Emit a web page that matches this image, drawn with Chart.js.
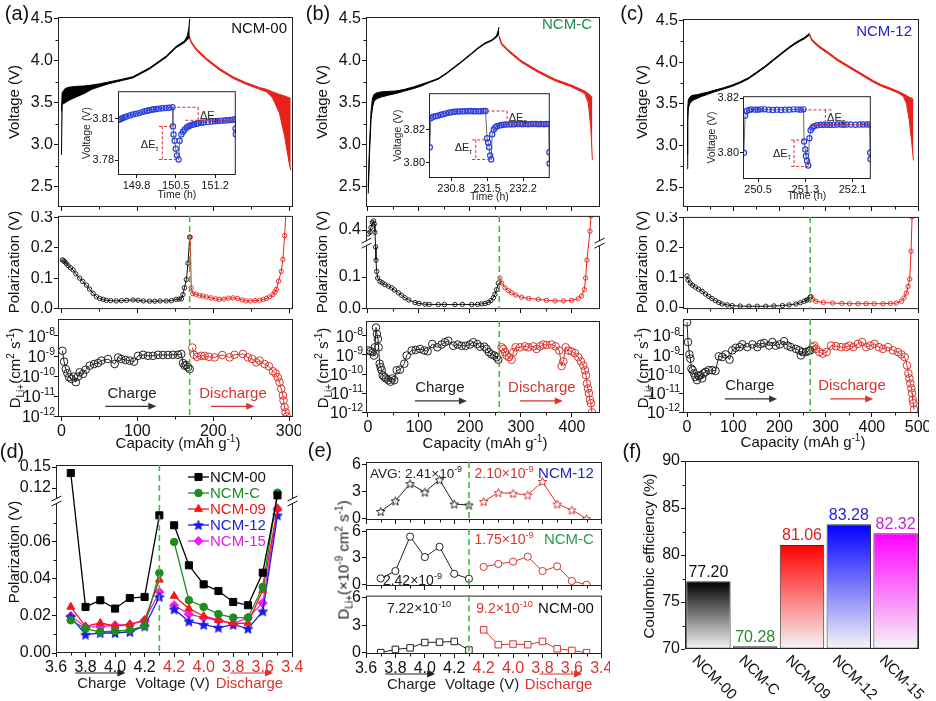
<!DOCTYPE html>
<html><head><meta charset="utf-8"><title>GITT kinetics figure</title>
<script src="https://cdn.jsdelivr.net/npm/chart.js@4.4.1/dist/chart.umd.min.js"></script>
<style>
html,body{margin:0;padding:0;background:#fff;}
#fig{position:relative;width:936px;height:701px;overflow:hidden;background:#fff;font-family:"Liberation Sans",Arial,Helvetica,sans-serif;color:#111;}
#fig canvas{position:absolute;}
.lab{position:absolute;white-space:nowrap;line-height:1;transform:translate(-50%,-50%);font-size:15px;}
.lab.rot{transform:translate(-50%,-50%) rotate(-90deg);}
.lab sub,.lab sup{font-size:10px;line-height:0;}
.pl{font-size:20px;}
</style></head>
<body><div id="fig"></div>
<script>
// ================= DATA =================
// (a) NCM-00 GITT voltage band (pulse top / relaxed bottom), capacity in mAh/g
const aChargeCap   = [0, 1, 5, 10, 20, 30, 40, 50, 64, 80, 94, 116, 138, 151, 162, 166, 168, 169];
const aChargeUpper = [3.40, 3.62, 3.67, 3.685, 3.695, 3.70, 3.71, 3.725, 3.75, 3.78, 3.81, 3.915, 4.055, 4.17, 4.235, 4.30, 4.40, 4.50];
const aChargeLower = [2.88, 3.48, 3.50, 3.53, 3.57, 3.61, 3.66, 3.69, 3.73, 3.765, 3.795, 3.90, 4.04, 4.155, 4.215, 4.25, 4.27, 4.28];
const aDisCap   = [168, 171, 178, 191, 208, 226, 243, 261, 270, 278, 287, 294, 300, 302];
const aDisUpper = [4.30, 4.23, 4.14, 4.03, 3.91, 3.81, 3.74, 3.68, 3.66, 3.63, 3.60, 3.58, 3.56, 3.55];
const aDisLower = [4.28, 4.21, 4.12, 4.01, 3.89, 3.79, 3.72, 3.66, 3.63, 3.56, 3.38, 3.10, 2.78, 2.70];
// (b) NCM-C
const bChargeCap   = [0.5, 3, 6, 9, 12, 18, 27, 40, 55, 72, 90, 105, 120, 138, 155, 170, 185, 203, 215, 229, 240, 246, 252, 255, 257];
const bChargeUpper = [2.50, 3.00, 3.40, 3.56, 3.60, 3.62, 3.63, 3.635, 3.64, 3.66, 3.69, 3.72, 3.75, 3.79, 3.86, 3.93, 4.00, 4.09, 4.15, 4.21, 4.24, 4.26, 4.30, 4.35, 4.40];
const bChargeLower = [2.42, 2.90, 3.30, 3.45, 3.52, 3.55, 3.57, 3.59, 3.61, 3.64, 3.67, 3.70, 3.74, 3.78, 3.85, 3.92, 3.99, 4.08, 4.14, 4.20, 4.23, 4.25, 4.28, 4.30, 4.33];
const bDisCap   = [257, 262, 275, 301, 334, 367, 399, 425, 432, 437, 440];
const bDisUpper = [4.30, 4.21, 4.13, 4.00, 3.88, 3.78, 3.71, 3.64, 3.61, 3.58, 3.56];
const bDisLower = [4.28, 4.19, 4.11, 3.98, 3.86, 3.76, 3.69, 3.61, 3.50, 3.20, 2.82];
// (c) NCM-12
const cChargeCap   = [0, 1.5, 3, 6, 10, 15, 22, 32, 45, 60, 80, 97, 115, 133, 150, 169, 187, 205, 220, 234, 245, 255, 261, 265];
const cChargeUpper = [2.90, 3.45, 3.55, 3.58, 3.60, 3.605, 3.61, 3.625, 3.64, 3.665, 3.695, 3.725, 3.765, 3.815, 3.88, 3.955, 4.035, 4.115, 4.18, 4.235, 4.27, 4.30, 4.33, 4.35];
const cChargeLower = [2.72, 3.30, 3.45, 3.50, 3.53, 3.55, 3.565, 3.59, 3.615, 3.645, 3.68, 3.71, 3.75, 3.80, 3.865, 3.94, 4.02, 4.10, 4.165, 4.22, 4.255, 4.285, 4.31, 4.33];
const cDisCap   = [265, 270, 277, 290, 306, 325, 349, 367, 385, 403, 421, 440, 457, 468, 475, 481, 486, 490];
const cDisUpper = [4.34, 4.28, 4.24, 4.18, 4.12, 4.04, 3.96, 3.90, 3.84, 3.78, 3.73, 3.69, 3.65, 3.62, 3.60, 3.58, 3.57, 3.55];
const cDisLower = [4.32, 4.26, 4.22, 4.16, 4.10, 4.02, 3.94, 3.88, 3.82, 3.76, 3.71, 3.67, 3.63, 3.59, 3.50, 3.30, 3.05, 2.82];

// Polarization (V)
const aPolChCap = [1.3, 3, 4.4, 6.5, 8.8, 12, 15.4, 19, 24, 28, 33, 37, 41.7, 46, 50.4, 55, 59.2, 65, 72.4, 79, 86, 94.3, 101, 108, 116, 123, 130, 138, 145, 151, 155, 158, 160, 162, 164.5, 166.7, 168.9];
const aPolChV   = [0.160, 0.157, 0.154, 0.148, 0.141, 0.134, 0.127, 0.114, 0.100, 0.089, 0.077, 0.064, 0.050, 0.039, 0.033, 0.030, 0.027, 0.026, 0.025, 0.026, 0.027, 0.028, 0.027, 0.025, 0.024, 0.024, 0.025, 0.025, 0.026, 0.030, 0.031, 0.032, 0.046, 0.068, 0.095, 0.149, 0.235];
const aPolDisCap = [169.7, 171, 173, 177, 182, 186, 191, 197, 203, 208, 214, 220, 226, 232, 238, 243, 249, 255, 261, 266, 270, 274, 278.5, 281, 283, 286, 289.5, 291.7, 294, 296];
const aPolDisV   = [0.235, 0.068, 0.049, 0.047, 0.043, 0.041, 0.038, 0.035, 0.032, 0.030, 0.031, 0.034, 0.035, 0.033, 0.028, 0.025, 0.025, 0.026, 0.027, 0.030, 0.033, 0.038, 0.046, 0.054, 0.063, 0.090, 0.122, 0.162, 0.240, 0.330];
const bPolChCap = [0.65, 3.9, 5.9, 8.5, 11.1, 12.4, 13.7, 15, 15.7, 17, 19, 23.5, 28, 33.3, 40, 46.4, 52, 59.5, 66, 72.5, 80, 92.2, 100, 111.8, 120, 137.9, 150, 170.6, 185, 203.3, 215, 222.9, 230, 235.9, 241, 245.8, 249, 252.3, 255.6];
const bPolChV   = [0.388, 0.393, 0.408, 0.424, 0.429, 0.419, 0.393, 0.196, 0.154, 0.118, 0.097, 0.086, 0.082, 0.076, 0.071, 0.066, 0.059, 0.050, 0.042, 0.034, 0.027, 0.019, 0.016, 0.0135, 0.013, 0.0125, 0.0125, 0.0125, 0.013, 0.0125, 0.013, 0.0146, 0.016, 0.019, 0.025, 0.034, 0.045, 0.060, 0.081];
const bPolDisCap = [258.8, 262.1, 268.6, 275, 281.7, 290, 301.3, 315, 334, 350, 366.7, 383, 399.3, 412.4, 419, 424.2, 426.8, 429.4, 435.3, 437.3];
const bPolDisV   = [0.097, 0.081, 0.066, 0.057, 0.050, 0.043, 0.036, 0.032, 0.029, 0.026, 0.024, 0.024, 0.026, 0.031, 0.040, 0.060, 0.097, 0.154, 0.396, 0.445];
const cPolChCap = [0, 2.2, 7.2, 12, 18.1, 25, 32.6, 40, 47.1, 54, 61.6, 69, 76.1, 87, 97.8, 115, 134, 152, 170.3, 188, 206.5, 221, 235.5, 245, 253.6, 259, 263, 266.7];
const cPolChV   = [0.106, 0.093, 0.082, 0.075, 0.069, 0.062, 0.055, 0.046, 0.038, 0.031, 0.024, 0.018, 0.013, 0.010, 0.0076, 0.006, 0.0055, 0.0055, 0.0055, 0.0065, 0.0076, 0.010, 0.013, 0.017, 0.022, 0.026, 0.029, 0.036];
const cPolDisCap = [268.1, 271.7, 279, 295, 315.2, 335, 351.4, 370, 387.7, 405, 423.9, 440, 452.9, 463.8, 469.6, 474.6, 478.3, 481.9, 484.8, 487];
const cPolDisV   = [0.038, 0.029, 0.022, 0.018, 0.016, 0.015, 0.014, 0.014, 0.014, 0.014, 0.014, 0.015, 0.016, 0.022, 0.033, 0.049, 0.071, 0.096, 0.188, 0.302];

// Li+ diffusion coefficient (cm2/s)
const aDChCap = [1.3, 3.5, 5.7, 7.9, 10.1, 13.2, 16.2, 18.9, 21.9, 24.1, 28.5, 32, 37.3, 43, 48.2, 52.6, 61.4, 70.2, 74.6, 78.9, 84.6, 89.9, 95.6, 100.9, 107.5, 114, 120.6, 127.2, 133.8, 140.4, 146.9, 153.5, 157.9, 160.1, 162.3, 164.5, 166.7, 168.9];
const aDCh    = [1.82e-9, 5.25e-10, 2.24e-10, 1.38e-10, 8.7e-11, 7.2e-11, 9.5e-11, 5.0e-11, 9.5e-11, 1.55e-10, 1.29e-10, 2.09e-10, 3.31e-10, 3.98e-10, 4.47e-10, 5.89e-10, 7.08e-10, 3.98e-10, 8.51e-10, 7.08e-10, 6.31e-10, 5.89e-10, 5.25e-10, 1.02e-9, 1.15e-9, 1.02e-9, 1.02e-9, 1.15e-9, 1.12e-9, 1.12e-9, 1.15e-9, 1.15e-9, 1.26e-9, 4.47e-10, 3.31e-10, 3.55e-10, 2.75e-10, 2.24e-10];
const aDDisCap = [172.4, 174.6, 178.5, 184.2, 188.6, 194.3, 201.8, 211.8, 221.5, 228, 239, 245.6, 251.3, 256.6, 261, 267.5, 273.2, 278.5, 282, 285, 287.3, 289.5, 291.7, 292.5, 293.9, 295.2, 296.9];
const aDDis    = [2.63e-9, 1.15e-9, 9.1e-10, 1.02e-9, 1.02e-9, 9.1e-10, 8.5e-10, 1.12e-9, 8.5e-10, 1.15e-9, 1.26e-9, 8.5e-10, 7.1e-10, 4.8e-10, 5.9e-10, 4.0e-10, 3.1e-10, 1.74e-10, 1.38e-10, 8.7e-11, 5.0e-11, 2.34e-11, 1.10e-11, 6.2e-12, 2.9e-12, 1.6e-12, 1.0e-12];
const bDChCap = [0.7, 5.2, 9.2, 11.8, 13.7, 15.7, 17.6, 19.6, 20.9, 22.9, 24.8, 26.8, 28.8, 32, 35.3, 39.9, 44.4, 47.7, 51.6, 56.2, 62.7, 71.2, 75.8, 85.6, 93.5, 102, 110.5, 117, 126.1, 136, 144.4, 151, 157.5, 167.3, 175.8, 183.7, 191.5, 200, 206.5, 214.4, 219.6, 228.1, 232.7, 237.3, 242.5, 247.7, 252.3, 255.6];
const bDCh    = [1.7e-9, 1.55e-9, 1.38e-9, 9.3e-10, 2.5e-9, 2.7e-8, 1.23e-8, 6.8e-9, 2.5e-9, 3.5e-10, 2.3e-10, 1.58e-10, 8.7e-11, 7.1e-11, 5.9e-11, 4.8e-11, 4.0e-11, 5.9e-11, 4.8e-11, 1.58e-10, 1.7e-10, 3.5e-10, 9.3e-10, 1.7e-9, 1.82e-9, 2.04e-9, 1.7e-9, 1.55e-9, 3.7e-9, 2.5e-9, 3.5e-9, 4.6e-9, 5.5e-9, 3.0e-9, 3.5e-9, 3.0e-9, 3.0e-9, 3.5e-9, 4.6e-9, 3.7e-9, 2.7e-9, 2.7e-9, 2.04e-9, 1.38e-9, 1.05e-9, 9.3e-10, 7.6e-10, 5.6e-10];
const bDDisCap = [262.1, 265.4, 268.6, 271.9, 276.5, 281.7, 285, 289.5, 298, 307.8, 314.4, 324.2, 330.7, 337.3, 343.8, 350.3, 360.1, 368, 375.2, 379.7, 383, 387.6, 392.8, 399.3, 405.9, 412.4, 417.6, 422.2, 425.5, 427.5, 429.4, 431.4, 433.3, 435.3, 437.3, 439.2];
const bDDis    = [2.5e-9, 2.04e-9, 1.38e-9, 9.3e-10, 7.6e-10, 5.6e-10, 1.38e-9, 2.5e-9, 2.5e-9, 2.8e-9, 2.5e-9, 2.8e-9, 2.04e-9, 2.8e-9, 3.5e-9, 3.3e-9, 3.5e-9, 2.8e-9, 1.7e-9, 2.6e-10, 4.6e-10, 2.5e-9, 1.7e-9, 1.5e-9, 1.23e-9, 7.6e-10, 4.6e-10, 2.8e-10, 1.58e-10, 8.7e-11, 3.2e-11, 1.78e-11, 1.0e-11, 4.5e-12, 3.0e-12, 1.0e-12];
const cDChCap = [0, 2.2, 5.1, 7.2, 9.4, 12.3, 15.2, 18.1, 21.7, 25.4, 29, 32.6, 36.2, 39.9, 47.1, 54.3, 61.6, 68.8, 76.1, 83.3, 92, 97.8, 105.1, 113.8, 119.6, 130.4, 141.3, 152.2, 159.4, 166.7, 177.5, 184.8, 192, 200.7, 210.1, 217.4, 224.6, 235.5, 242.8, 246.4, 250, 257.2, 263, 266.7];
const cDCh    = [4.9e-8, 4.6e-9, 1.05e-9, 6.3e-10, 1.9e-10, 1.58e-10, 1.07e-10, 7.1e-11, 4.8e-11, 7.8e-11, 8.7e-11, 5.9e-11, 1.07e-10, 1.29e-10, 1.58e-10, 1.58e-10, 1.45e-10, 8.3e-10, 7.6e-10, 1.05e-9, 5.6e-10, 1.7e-9, 2.3e-9, 2.5e-9, 3.5e-9, 2.5e-9, 3.5e-9, 2.5e-9, 3.7e-9, 4.1e-9, 3.0e-9, 4.6e-9, 3.0e-9, 3.5e-9, 5.1e-9, 3.0e-9, 2.5e-9, 2.04e-9, 1.7e-9, 9.3e-10, 1.38e-9, 1.38e-9, 1.55e-9, 1.7e-9];
const cDDisCap = [271.7, 275.4, 279, 286.2, 293.5, 302.2, 311.6, 322.5, 333.3, 344.2, 351.4, 360.1, 369.6, 379, 387.7, 396.4, 405.8, 415.2, 423.9, 434.8, 445.7, 456.5, 463.8, 471, 476.1, 479, 481.2, 483.3, 485.5, 487, 488.4, 489.9, 491.3];
const cDDis    = [2.5e-9, 3.0e-9, 2.04e-9, 1.38e-9, 1.15e-9, 1.38e-9, 3.0e-9, 2.8e-9, 2.5e-9, 2.5e-9, 3.0e-9, 2.5e-9, 3.7e-9, 4.6e-9, 2.5e-9, 3.0e-9, 3.7e-9, 2.5e-9, 2.04e-9, 2.5e-9, 1.7e-9, 1.38e-9, 1.05e-9, 7.6e-10, 2.8e-10, 1.07e-10, 5.9e-11, 3.2e-11, 1.78e-11, 1.0e-11, 4.5e-12, 3.0e-12, 1.4e-12];

// Insets: single GITT titration, time (h) vs voltage (V)
const insATime = [149.485, 149.52, 149.55, 149.585, 149.62, 149.68, 149.735, 149.79, 149.85, 149.90, 149.95, 149.99, 150.03, 150.07, 150.10, 150.15, 150.20, 150.26, 150.32, 150.38, 150.44, 150.45, 150.46, 150.48, 150.50, 150.52, 150.55, 150.57, 150.60, 150.63, 150.66, 150.70, 150.73, 150.76, 150.80, 150.83, 150.87, 150.90, 150.95, 151.00, 151.07, 151.14, 151.20, 151.25, 151.31, 151.37, 151.42, 151.47, 151.52, 151.56, 151.565, 151.57];
const insAVolt = [3.8093, 3.8099, 3.8105, 3.8112, 3.8118, 3.8125, 3.8132, 3.8137, 3.8142, 3.8149, 3.8155, 3.8159, 3.8163, 3.8166, 3.8168, 3.8171, 3.8174, 3.8177, 3.8179, 3.8181, 3.8184, 3.8046, 3.7988, 3.7942, 3.7884, 3.7837, 3.7807, 3.7942, 3.7988, 3.8008, 3.8023, 3.8040, 3.8047, 3.8053, 3.8058, 3.8062, 3.8066, 3.8069, 3.8072, 3.8074, 3.8078, 3.8081, 3.8083, 3.8085, 3.8087, 3.8088, 3.8090, 3.8092, 3.8094, 3.8097, 3.8030, 3.7990];
const insBTime = [230.386, 230.405, 230.449, 230.50, 230.544, 230.60, 230.65, 230.70, 230.76, 230.81, 230.863, 230.92, 230.97, 231.02, 231.07, 231.13, 231.18, 231.23, 231.28, 231.33, 231.38, 231.43, 231.47, 231.50, 231.52, 231.54, 231.56, 231.58, 231.60, 231.63, 231.66, 231.69, 231.74, 231.78, 231.82, 231.87, 231.93, 231.98, 232.03, 232.09, 232.14, 232.19, 232.25, 232.30, 232.35, 232.40, 232.45, 232.50, 232.55, 232.60, 232.65, 232.70, 232.71, 232.715];
const insBVolt = [3.8092, 3.8268, 3.8278, 3.8281, 3.8284, 3.8289, 3.8293, 3.8298, 3.8302, 3.8305, 3.8308, 3.8309, 3.8310, 3.8310, 3.8311, 3.8311, 3.8312, 3.8311, 3.8311, 3.8310, 3.8311, 3.8312, 3.8312, 3.8147, 3.8121, 3.8092, 3.8043, 3.8018, 3.8171, 3.8200, 3.8212, 3.8220, 3.8224, 3.8227, 3.8229, 3.8230, 3.8231, 3.8232, 3.8232, 3.8233, 3.8233, 3.8232, 3.8233, 3.8232, 3.8233, 3.8233, 3.8233, 3.8232, 3.8233, 3.8232, 3.8233, 3.8233, 3.8062, 3.7994];
const insCTime = [250.26, 250.28, 250.31, 250.35, 250.39, 250.45, 250.50, 250.55, 250.61, 250.68, 250.75, 250.82, 250.89, 250.96, 251.03, 251.10, 251.17, 251.22, 251.27, 251.28, 251.30, 251.31, 251.33, 251.35, 251.37, 251.39, 251.42, 251.45, 251.50, 251.56, 251.61, 251.67, 251.72, 251.78, 251.84, 251.90, 251.95, 252.00, 252.07, 252.15, 252.22, 252.28, 252.34, 252.39, 252.40, 252.405];
const insCVolt = [3.8001, 3.8136, 3.8153, 3.8157, 3.8159, 3.8158, 3.8158, 3.8159, 3.8159, 3.8158, 3.8157, 3.8158, 3.8157, 3.8158, 3.8158, 3.8159, 3.8159, 3.8158, 3.8159, 3.8042, 3.8013, 3.7989, 3.7972, 3.7954, 3.8054, 3.8083, 3.8092, 3.8098, 3.8101, 3.8103, 3.8103, 3.8103, 3.8103, 3.8103, 3.8104, 3.8104, 3.8103, 3.8104, 3.8104, 3.8103, 3.8104, 3.8104, 3.8104, 3.8104, 3.8001, 3.7978];

// (d) Polarization vs voltage (charge 3.7->4.3, discharge 4.2->3.5)
const dVoltCharge = [3.7, 3.8, 3.9, 4.0, 4.1, 4.2, 4.3];
const dVoltDis    = [4.2, 4.1, 4.0, 3.9, 3.8, 3.7, 3.6, 3.5];
const dNames = ['NCM-00', 'NCM-C', 'NCM-09', 'NCM-12', 'NCM-15'];
const dNCM00Ch = [0.1414, 0.0249, 0.0285, 0.0240, 0.0297, 0.0303, 0.0744];
const dNCM00Dis = [0.0690, 0.0474, 0.0371, 0.0335, 0.0276, 0.0258, 0.0434, 0.1095];
const dNCMCCh = [0.0177, 0.0132, 0.0114, 0.0119, 0.0123, 0.0146, 0.0432];
const dNCMCDis = [0.0600, 0.0285, 0.0249, 0.0210, 0.0191, 0.0191, 0.0357, 0.1133];
const dNCM09Ch = [0.0249, 0.0144, 0.0162, 0.0146, 0.0155, 0.0177, 0.0396];
const dNCM09Dis = [0.0308, 0.0240, 0.0200, 0.0177, 0.0159, 0.0162, 0.0339, 0.0780];
const dNCM12Ch = [0.0195, 0.0099, 0.0108, 0.0108, 0.0114, 0.0144, 0.0303];
const dNCM12Dis = [0.0236, 0.0171, 0.0153, 0.0137, 0.0153, 0.0132, 0.0225, 0.0744];
const dNCM15Ch = [0.0200, 0.0141, 0.0141, 0.0150, 0.0153, 0.0177, 0.0330];
const dNCM15Dis = [0.0258, 0.0210, 0.0191, 0.0177, 0.0159, 0.0191, 0.0270, 0.0780];

// (e) D_Li+ (x1e-9 cm2/s) vs voltage
const eNCM12Ch = [0.79, 1.96, 3.86, 2.93, 4.29, 1.61, 1.50];
const eNCM12Dis = [1.89, 2.86, 2.79, 2.61, 4.10, 1.61, 0.96, 0.0];
const eNCMCCh = [0.70, 1.53, 5.40, 3.10, 4.25, 1.22, 0.66];
const eNCMCDis = [1.99, 2.33, 2.58, 3.14, 1.53, 2.06, 0.42, 0.0];
const eNCM00Ch = [0.0, 0.35, 0.52, 1.11, 1.15, 1.22, 0.28];
const eNCM00Dis = [2.50, 0.87, 0.94, 0.87, 1.22, 0.42, 0.24, 0.0];

// (f) Coulombic efficiency (%)
const fSamples = ['NCM-00', 'NCM-C', 'NCM-09', 'NCM-12', 'NCM-15'];
const fCE = [77.20, 70.28, 81.06, 83.28, 82.32];

// ================= HELPERS =================
const fig = document.getElementById('fig');
const FONT = '"Liberation Sans", Arial, Helvetica, sans-serif';
Chart.defaults.font.family = FONT;
Chart.defaults.color = '#111';
const TS = 16;
const RED = '#e8221b', DRED = '#d8352e', GDASH = '#4db34d';
let hid = 0;
const hook = (when, fn) => ({id: 'hk' + (hid++), [when]: fn});
const pts = (xs, ys) => xs.map((x, i) => ({x: x, y: ys[i]}));
const range = (a, b, s) => { const r = []; for (let k = 0; a + k * s <= b + 1e-9; k++) r.push(+(a + k * s).toFixed(6)); return r; };

const boxPlugin = {id: 'box', afterDatasetsDraw(ch) {
  const c = ch.ctx, a = ch.chartArea; c.save(); c.setLineDash([]); c.strokeStyle = '#222'; c.lineWidth = 1;
  c.strokeRect(a.left + 0.5, a.top + 0.5, a.width - 1, a.height - 1); c.restore(); }};

function mkChart(plot, m, config) {
  const cv = document.createElement('canvas');
  const w = plot.r - plot.l + m.l + m.r, h = plot.b - plot.t + m.t + m.b;
  cv.width = w; cv.height = h;
  Object.assign(cv.style, {left: (plot.l - m.l) + 'px', top: (plot.t - m.t) + 'px', width: w + 'px', height: h + 'px'});
  fig.appendChild(cv);
  const o = config.options;
  o.responsive = false; o.maintainAspectRatio = false; o.animation = false; o.devicePixelRatio = 1; o.events = [];
  o.layout = {padding: {top: m.t, right: m.r, left: 0, bottom: 0}};
  o.plugins = Object.assign({legend: {display: false}, tooltip: {enabled: false}}, o.plugins || {});
  o.scales.x.afterFit = s => { s.height = m.b; s.paddingLeft = 0; s.paddingRight = 0; };
  o.scales.y.afterFit = s => { s.width = m.l; s.paddingTop = 0; s.paddingBottom = 0; };
  config.plugins = [boxPlugin].concat(config.plugins || []);
  return new Chart(cv, config);
}

function axis(min, max, ticks, o) {
  o = o || {};
  const ax = {
    type: o.type || 'linear', min: min, max: max, bounds: 'data',
    afterBuildTicks: s => { s.ticks = ticks.map(v => ({value: v})); },
    ticks: {display: o.show !== false, autoSkip: false, maxRotation: 0, minRotation: 0,
      padding: o.pad == null ? 1 : o.pad, font: {size: o.size || TS, family: FONT}, color: o.color || '#111'},
    grid: {drawOnChartArea: false, drawTicks: true, tickLength: o.tl || 4, tickColor: '#111', tickWidth: 1},
    border: {display: false}
  };
  if (o.cb) ax.ticks.callback = o.cb;
  return ax;
}

function minor(xs, ys, len) {
  len = len || 2.5;
  return hook('afterDraw', ch => {
    const c = ch.ctx, a = ch.chartArea; c.save(); c.strokeStyle = '#111'; c.lineWidth = 1; c.beginPath();
    (xs || []).forEach(v => { const X = Math.round(ch.scales.x.getPixelForValue(v)) + 0.5; c.moveTo(X, a.bottom); c.lineTo(X, a.bottom + len); });
    (ys || []).forEach(v => { const Y = Math.round(ch.scales.y.getPixelForValue(v)) + 0.5; c.moveTo(a.left, Y); c.lineTo(a.left - len, Y); });
    c.stroke(); c.restore();
  });
}

function rich(c, x, y, parts, align, size, color) {
  const small = size * 0.66;
  c.save(); c.textBaseline = 'alphabetic'; c.textAlign = 'left';
  const ws = parts.map(p => { c.font = (p[1] === 'n' ? size : small) + 'px ' + FONT; return c.measureText(p[0]).width; });
  const tot = ws.reduce((s, v) => s + v, 0);
  let cx = align === 'right' ? x - tot : align === 'center' ? x - tot / 2 : x;
  const base = y + size * 0.36;
  parts.forEach((p, i) => {
    c.font = (p[1] === 'n' ? size : small) + 'px ' + FONT;
    c.fillStyle = p[2] || color;
    const dy = p[1] === 'sup' ? -size * 0.42 : p[1] === 'sub' ? size * 0.25 : 0;
    c.fillText(p[0], cx, base + dy); cx += ws[i];
  });
  c.restore();
}

function arrow(c, x1, x2, y, color) {
  c.save(); c.strokeStyle = color; c.fillStyle = color; c.lineWidth = 1.2; c.setLineDash([]);
  c.beginPath(); c.moveTo(x1, y); c.lineTo(x2 - 5, y); c.stroke();
  c.beginPath(); c.moveTo(x2, y); c.lineTo(x2 - 8, y - 3.5); c.lineTo(x2 - 8, y + 3.5); c.closePath(); c.fill();
  c.restore();
}

function vdash(xv) {
  return hook('afterDatasetsDraw', ch => {
    const c = ch.ctx, a = ch.chartArea, X = ch.scales.x.getPixelForValue(xv);
    c.save(); c.strokeStyle = GDASH; c.lineWidth = 1.6; c.setLineDash([6, 4]);
    c.beginPath(); c.moveTo(X, a.top); c.lineTo(X, a.bottom); c.stroke(); c.restore();
  });
}

function breakMarks(dv) {
  return hook('afterDraw', ch => {
    const c = ch.ctx, a = ch.chartArea, Y = ch.scales.y.getPixelForValue(dv);
    [a.left + 0.5, a.right - 0.5].forEach(X => {
      c.save(); c.fillStyle = '#fff'; c.fillRect(X - 5, Y - 3, 10, 5);
      c.strokeStyle = '#111'; c.lineWidth = 1; c.beginPath();
      c.moveTo(X - 5, Y - 1); c.lineTo(X + 5, Y - 6); c.moveTo(X - 5, Y + 4); c.lineTo(X + 5, Y - 1); c.stroke(); c.restore();
    });
  });
}

function starImg(r, stroke, fill) {
  const s = Math.ceil(r * 2 + 4), cv = document.createElement('canvas'); cv.width = s; cv.height = s;
  const c = cv.getContext('2d'), cx = s / 2, cy = s / 2 + 0.5;
  c.beginPath();
  for (let i = 0; i < 10; i++) { const ang = -Math.PI / 2 + i * Math.PI / 5, rr = i % 2 === 0 ? r : r * 0.45; c.lineTo(cx + rr * Math.cos(ang), cy + rr * Math.sin(ang)); }
  c.closePath(); c.fillStyle = fill; c.fill(); c.lineWidth = 1; c.strokeStyle = stroke; c.stroke();
  return cv;
}

const band = (xs, ys, color, fill) => ({data: pts(xs, ys), borderColor: color, backgroundColor: color, borderWidth: 1, pointRadius: 0, tension: 0, fill: fill});
const markDS = (data, color, r, o) => { o = o || {}; return {data: data, borderColor: color, backgroundColor: color, borderWidth: o.lw || 1,
  pointRadius: r, pointStyle: o.style || 'circle', pointBorderColor: color, pointBackgroundColor: o.pbg || 'rgba(255,255,255,0)',
  pointBorderWidth: o.pbw || 1, tension: 0, fill: false, spanGaps: false}; };

function cornerText(text, color, dx, dy) {
  return hook('afterDraw', ch => { const c = ch.ctx, a = ch.chartArea; c.save(); c.font = '15px ' + FONT; c.fillStyle = color;
    c.textAlign = 'right'; c.textBaseline = 'middle'; c.fillText(text, a.right - dx, a.top + dy); c.restore(); });
}

function logLabels() {
  return hook('afterDraw', ch => {
    const c = ch.ctx, a = ch.chartArea;
    [-8, -9, -10, -11, -12].forEach(e => rich(c, a.left - 3, ch.scales.y.getPixelForValue(Math.pow(10, e)), [['10', 'n'], [String(e), 'sup']], 'right', TS, '#111'));
  });
}

function cdAnnot(o) {
  return hook('afterDraw', ch => {
    const c = ch.ctx, X = v => ch.scales.x.getPixelForValue(v), Y = v => ch.scales.y.getPixelForValue(v);
    c.save(); c.font = '15px ' + FONT; c.textAlign = 'center'; c.textBaseline = 'middle';
    c.fillStyle = '#222'; c.fillText('Charge', X(o.cx), Y(o.ty));
    c.fillStyle = DRED; c.fillText('Discharge', X(o.dx), Y(o.ty)); c.restore();
    arrow(c, X(o.ca[0]), X(o.ca[1]), Y(o.ay), '#333');
    arrow(c, X(o.da[0]), X(o.da[1]), Y(o.ay), DRED);
  });
}

// ---------- GITT panels (a)(b)(c) ----------
function voltageChart(plot, m, xr, xt, xm, chCap, chUp, chLo, dCap, dUp, dLo, label) {
  return mkChart(plot, m, {type: 'line',
    data: {datasets: [band(chCap, chLo, '#000', false), band(chCap, chUp, '#000', '-1'), band(dCap, dLo, RED, false), band(dCap, dUp, RED, '-1')]},
    options: {scales: {x: axis(xr[0], xr[1], xt, {show: false}), y: axis(2.26, 4.52, [2.5, 3, 3.5, 4, 4.5], {cb: v => v.toFixed(1)})}},
    plugins: [minor(xm, [2.75, 3.25, 3.75, 4.25]), label]});
}
function polarChart(plot, m, xr, xt, xm, yr, yt, ycb, ch, dis, dashX, extra) {
  return mkChart(plot, m, {type: 'line',
    data: {datasets: [markDS(ch, '#111', 2.2, {pbw: 0.9}), markDS(dis, RED, 2.2, {pbw: 0.9})]},
    options: {scales: {x: axis(xr[0], xr[1], xt, {show: false}), y: axis(yr[0], yr[1], yt, {cb: ycb})}},
    plugins: [vdash(dashX), minor(xm, null)].concat(extra || [])});
}
function diffChart(plot, m, xr, xt, xm, yr, ch, dis, dashX, ann) {
  return mkChart(plot, m, {type: 'line',
    data: {datasets: [markDS(ch, '#222', 3.8), markDS(dis, DRED, 3.8)]},
    options: {scales: {x: axis(xr[0], xr[1], xt, {cb: v => String(v), pad: 1}),
      y: axis(yr[0], yr[1], [1e-12, 1e-11, 1e-10, 1e-9, 1e-8], {type: 'logarithmic', show: false})}},
    plugins: [vdash(dashX), minor(xm, null), logLabels(), cdAnnot(ann)]});
}
function insetChart(plot, m, t, v, xr, xt, yr, yt, segs, labs, tOff) {
  return mkChart(plot, m, {type: 'line',
    data: {datasets: [{data: pts(t, v), borderColor: '#6a6a6a', borderWidth: 1, pointRadius: 2.6, pointBorderColor: '#2b40e0',
      pointBackgroundColor: 'rgba(255,255,255,0)', pointBorderWidth: 1.2, tension: 0, fill: false}]},
    options: {scales: {x: axis(xr[0], xr[1], xt, {size: 11, tl: 3, cb: x => x.toFixed(1)}), y: axis(yr[0], yr[1], yt, {size: 11, tl: 3, cb: y => y.toFixed(2)})}},
    plugins: [
      hook('beforeDatasetsDraw', ch => { const a = ch.chartArea; ch.ctx.save(); ch.ctx.fillStyle = '#fff'; ch.ctx.fillRect(a.left, a.top, a.width, a.height); ch.ctx.restore(); }),
      hook('afterDraw', ch => {
        const c = ch.ctx, a = ch.chartArea, X = q => ch.scales.x.getPixelForValue(q), Y = q => ch.scales.y.getPixelForValue(q);
        c.save(); c.strokeStyle = '#e02a2a'; c.lineWidth = 1; c.setLineDash([3, 2]);
        segs.forEach(s => { c.beginPath(); c.moveTo(X(s[0]), Y(s[1])); c.lineTo(X(s[2]), Y(s[3])); c.stroke(); });
        c.restore();
        labs.forEach(l => rich(c, X(l.x), Y(l.y), [['ΔE', 'n'], [l.s, 'sub']], l.al, 11, '#222'));
        c.save(); c.fillStyle = '#222'; c.font = '10.5px ' + FONT; c.textAlign = 'center'; c.textBaseline = 'middle';
        c.fillText('Time (h)', (a.left + a.right) / 2, a.bottom + tOff);
        c.translate(a.left - 31, (a.top + a.bottom) / 2); c.rotate(-Math.PI / 2); c.fillText('Voltage (V)', 0, 0); c.restore();
      })]});
}

// (a)
voltageChart({l: 58, t: 17, r: 293, b: 207}, {l: 58, t: 17, r: 8, b: 6}, [-4.5, 305], [0, 100, 200, 300], [50, 150, 250],
  aChargeCap, aChargeUpper, aChargeLower, aDisCap, aDisUpper, aDisLower, cornerText('NCM-00', '#111', 6, 12));
polarChart({l: 58, t: 215, r: 293, b: 310}, {l: 58, t: 4, r: 8, b: 4}, [-4.5, 305], [0, 100, 200, 300], [50, 150, 250],
  [-0.002, 0.305], [0, 0.1, 0.2, 0.3], v => v.toFixed(1), pts(aPolChCap, aPolChV), pts(aPolDisCap, aPolDisV), 168.9);
diffChart({l: 58, t: 318, r: 293, b: 417}, {l: 58, t: 4, r: 8, b: 20}, [-4.5, 305], [0, 100, 200, 300], [50, 150, 250],
  [9.3e-13, 6.9e-8], pts(aDChCap, aDCh), pts(aDDisCap, aDDis), 168.9,
  {cx: 93, dx: 226, ty: Math.pow(10, -10.86), ay: Math.pow(10, -11.5), ca: [58, 125], da: [197, 254]});
insetChart({l: 118, t: 88, r: 238, b: 175}, {l: 38, t: 2, r: 3, b: 26}, insATime, insAVolt, [149.47, 151.57], [149.8, 150.5, 151.2],
  [3.7695, 3.830], [3.78, 3.81],
  [[150.44, 3.8184, 150.90, 3.8184], [150.90, 3.8184, 150.90, 3.8090], [150.67, 3.8090, 151.56, 3.8090],
   [150.20, 3.8046, 150.45, 3.8046], [150.26, 3.8046, 150.26, 3.7807], [150.20, 3.7807, 150.55, 3.7807]],
  [{x: 150.93, y: 3.8128, s: 's', al: 'left'}, {x: 150.19, y: 3.7918, s: 'τ', al: 'right'}], 20);

// (b)
const brkB = v => v <= 0.2 ? v : (v >= 0.35 ? v - 0.15 : 0.2);
voltageChart({l: 366, t: 17, r: 600, b: 207}, {l: 58, t: 17, r: 8, b: 6}, [-3.9, 455], [0, 100, 200, 300, 400], [50, 150, 250, 350],
  bChargeCap, bChargeUpper, bChargeLower, bDisCap, bDisUpper, bDisLower, cornerText('NCM-C', '#1f8a4f', 8, 8));
polarChart({l: 366, t: 215, r: 600, b: 310}, {l: 58, t: 4, r: 8, b: 4}, [-3.9, 455], [0, 100, 200, 300, 400], [50, 150, 250, 350],
  [-0.002, 0.295], [0, 0.1, brkB(0.4)], (v, i) => ['0.0', '0.1', '0.4'][i],
  bPolChCap.map((x, i) => ({x: x, y: brkB(bPolChV[i])})), bPolDisCap.map((x, i) => ({x: x, y: brkB(bPolDisV[i])})), 257.5, [breakMarks(0.205)]);
diffChart({l: 366, t: 320, r: 600, b: 413}, {l: 58, t: 4, r: 8, b: 24}, [-3.9, 455], [0, 100, 200, 300, 400], [50, 150, 250, 350],
  [9.3e-13, 5.9e-8], pts(bDChCap, bDCh), pts(bDDisCap, bDDis), 257.5,
  {cx: 141, dx: 341, ty: Math.pow(10, -10.73), ay: Math.pow(10, -11.4), ca: [92, 194], da: [298, 382]});
insetChart({l: 429, t: 90, r: 552, b: 178}, {l: 38, t: 2, r: 3, b: 26}, insBTime, insBVolt, [230.37, 232.72], [230.8, 231.5, 232.2],
  [3.7906, 3.842], [3.80, 3.82],
  [[231.49, 3.8312, 231.89, 3.8312], [231.89, 3.8312, 231.89, 3.8233], [231.89, 3.8233, 232.70, 3.8233],
   [231.21, 3.8137, 231.50, 3.8137], [231.28, 3.8137, 231.28, 3.8018], [231.21, 3.8018, 231.58, 3.8018]],
  [{x: 231.92, y: 3.8276, s: 's', al: 'left'}, {x: 231.21, y: 3.8092, s: 'τ', al: 'right'}], 19);

// (c)
voltageChart({l: 683, t: 19, r: 919, b: 207}, {l: 58, t: 19, r: 10, b: 6}, [-8.7, 502], [0, 100, 200, 300, 400, 500], [50, 150, 250, 350, 450],
  cChargeCap, cChargeUpper, cChargeLower, cDisCap, cDisUpper, cDisLower, cornerText('NCM-12', '#2323c8', 7, 13));
polarChart({l: 683, t: 216, r: 919, b: 310}, {l: 58, t: 4, r: 10, b: 4}, [-8.7, 502], [0, 100, 200, 300, 400, 500], [50, 150, 250, 350, 450],
  [-0.004, 0.302], [0, 0.1, 0.2, 0.3], v => v.toFixed(1), pts(cPolChCap, cPolChV), pts(cPolDisCap, cPolDisV), 266.5);
diffChart({l: 683, t: 318, r: 919, b: 413}, {l: 58, t: 4, r: 10, b: 24}, [-8.7, 502], [0, 100, 200, 300, 400, 500], [50, 150, 250, 350, 450],
  [9.3e-13, 7.3e-8], pts(cDChCap, cDCh), pts(cDDisCap, cDDis), 266.5,
  {cx: 136, dx: 357, ty: Math.pow(10, -10.63), ay: Math.pow(10, -11.3), ca: [82, 195], da: [310, 403]});
insetChart({l: 743, t: 93, r: 873, b: 179}, {l: 38, t: 2, r: 3, b: 26}, insCTime, insCVolt, [250.245, 252.41], [250.5, 251.3, 252.1],
  [3.7905, 3.8207], [3.80, 3.82],
  [[251.27, 3.8157, 251.75, 3.8157], [251.64, 3.8157, 251.64, 3.8103], [251.39, 3.8103, 252.39, 3.8103],
   [251.06, 3.8047, 251.28, 3.8047], [251.11, 3.8047, 251.11, 3.7951], [251.06, 3.7951, 251.35, 3.7951]],
  [{x: 251.67, y: 3.8130, s: 's', al: 'left'}, {x: 251.05, y: 3.8001, s: 'τ', al: 'right'}], 17);

// ---------- (d) & (e) folded voltage axis ----------
const foldCh = v => v - 3.6, foldDis = v => 5.0 - v;
const foldLabel = p => (p < 0.7 ? 3.6 + p : 5.0 - p).toFixed(1);
function foldAxis(show) {
  return axis(0, 1.605, [0, 0.2, 0.4, 0.6, 0.8, 1.0, 1.2, 1.4, 1.6],
    {show: show, cb: foldLabel, color: ctx => (ctx.tick && ctx.tick.value > 0.7) ? DRED : '#111', pad: 1});
}
const foldFooter = hook('afterDraw', ch => {
  const c = ch.ctx, a = ch.chartArea, X = p => ch.scales.x.getPixelForValue(p);
  arrow(c, X(0.13), X(0.47), a.bottom + 20, '#222');
  arrow(c, X(1.18), X(1.47), a.bottom + 20, DRED);
  c.save(); c.font = '15px ' + FONT; c.textAlign = 'center'; c.textBaseline = 'middle';
  c.fillStyle = '#222'; c.fillText('Charge', X(0.31), a.bottom + 31); c.fillText('Voltage (V)', X(0.79), a.bottom + 31);
  c.fillStyle = DRED; c.fillText('Discharge', X(1.31), a.bottom + 31); c.restore();
});

const brkD = v => v < 0.10 ? Math.min(v, 0.0816) : 0.0816 + (v - 0.10) * 0.378;
const dColors = ['#000000', '#1e8c1e', '#f21a1a', '#1a1ae6', '#f01ef0'];
const dText = ['#111', '#1e8c1e', '#e81a1a', '#1a1ae6', '#e01ee0'];
const dStyles = ['rect', 'circle', 'triangle', starImg(5, '#1a1ae6', '#1a1ae6'), 'rectRot'];
const dRadius = [5, 3.8, 4.6, 5, 4.6];
const dCh = [dNCM00Ch, dNCMCCh, dNCM09Ch, dNCM12Ch, dNCM15Ch];
const dDis = [dNCM00Dis, dNCMCDis, dNCM09Dis, dNCM12Dis, dNCM15Dis];
const dFold = (ch, dis) => dVoltCharge.map((v, i) => ({x: foldCh(v), y: brkD(ch[i])}))
  .concat([{x: 0.75, y: null}], dVoltDis.map((v, i) => ({x: foldDis(v), y: brkD(dis[i])})));
const dLegend = hook('afterDraw', ch => {
  const c = ch.ctx, a = ch.chartArea;
  ch.data.datasets.forEach((ds, i) => {
    const y = a.top + 12 + i * 16, x0 = a.left + 132;
    c.save(); c.strokeStyle = ds.borderColor; c.lineWidth = 1.3; c.beginPath(); c.moveTo(x0, y); c.lineTo(x0 + 21, y); c.stroke();
    c.fillStyle = ds.pointBackgroundColor; c.strokeStyle = ds.pointBorderColor; c.lineWidth = 1;
    if (Chart.helpers && Chart.helpers.drawPoint) Chart.helpers.drawPoint(c, {pointStyle: ds.pointStyle, radius: ds.pointRadius, rotation: 0, borderWidth: 1}, x0 + 10.5, y);
    c.font = '15px ' + FONT; c.fillStyle = dText[i]; c.textAlign = 'left'; c.textBaseline = 'middle'; c.fillText(dNames[i], x0 + 22, y + 1);
    c.restore();
  });
});
mkChart({l: 56, t: 465, r: 293, b: 653}, {l: 56, t: 10, r: 10, b: 46}, {type: 'line',
  data: {datasets: dNames.map((n, i) => ({label: n, data: dFold(dCh[i], dDis[i]), borderColor: dColors[i], backgroundColor: dColors[i],
    borderWidth: 1.3, pointStyle: dStyles[i], pointRadius: dRadius[i], pointBorderColor: dColors[i], pointBackgroundColor: dColors[i],
    pointBorderWidth: 1, tension: 0, fill: false, spanGaps: false}))},
  options: {scales: {x: foldAxis(true), y: axis(0, 0.1016, [0, 0.02, 0.04, 0.06, brkD(0.12), brkD(0.15)],
    {cb: (v, i) => ['0.00', '0.02', '0.04', '0.06', '0.12', '0.15'][i]})}},
  plugins: [vdash(0.7), minor(range(0.1, 1.5, 0.2), [0.01, 0.03, 0.05, 0.07]), breakMarks(0.0816), dLegend, foldFooter]});

function eChart(plot, m, ch, dis, chStyle, disStyle, r, showX, texts) {
  const plugins = [vdash(0.7), minor(range(0.1, 1.5, 0.2), null),
    hook('afterDraw', c2 => { const c = c2.ctx, X = p => c2.scales.x.getPixelForValue(p), Y = v => c2.scales.y.getPixelForValue(v);
      texts.forEach(t => rich(c, X(t.p), Y(t.v), t.parts, t.al, t.size || 14, t.color)); })];
  if (showX) plugins.push(foldFooter);
  return mkChart(plot, m, {type: 'line',
    data: {datasets: [
      markDS(dVoltCharge.map((v, i) => ({x: foldCh(v), y: ch[i]})), '#222', r, {style: chStyle, pbg: '#fff'}),
      markDS(dVoltDis.map((v, i) => ({x: foldDis(v), y: dis[i]})), DRED, r, {style: disStyle, pbg: '#fff'})]},
    options: {scales: {x: foldAxis(showX), y: axis(-0.15, 6.25, [0, 3, 6], {cb: v => String(v)})}},
    plugins: plugins});
}
eChart({l: 366, t: 462, r: 602, b: 522}, {l: 30, t: 8, r: 8, b: 3}, eNCM12Ch, eNCM12Dis, starImg(4.5, '#222', '#fff'), starImg(4.5, DRED, '#fff'), 4, false,
  [{p: 0.027, v: 5.04, parts: [['AVG: 2.41×10', 'n'], ['-9', 'sup']], al: 'left', color: '#222', size: 13.5},
   {p: 0.738, v: 5.04, parts: [['2.10×10', 'n'], ['-9', 'sup']], al: 'left', color: DRED},
   {p: 1.55, v: 5.04, parts: [['NCM-12', 'n']], al: 'right', color: '#2323c8', size: 15}]);
eChart({l: 366, t: 527, r: 602, b: 588}, {l: 30, t: 3, r: 8, b: 3}, eNCMCCh, eNCMCDis, 'circle', 'circle', 3.6, false,
  [{p: 0.738, v: 5.16, parts: [['1.75×10', 'n'], ['-9', 'sup']], al: 'left', color: DRED},
   {p: 1.55, v: 5.16, parts: [['NCM-C', 'n']], al: 'right', color: '#2a9a4a', size: 15},
   {p: 0.115, v: 0.55, parts: [['2.42×10', 'n'], ['-9', 'sup']], al: 'left', color: '#222'}]);
eChart({l: 366, t: 593, r: 602, b: 654}, {l: 30, t: 3, r: 8, b: 46}, eNCM00Ch, eNCM00Dis, 'rect', 'rect', 4.6, true,
  [{p: 0.142, v: 4.95, parts: [['7.22×10', 'n'], ['-10', 'sup']], al: 'left', color: '#222'},
   {p: 0.75, v: 4.95, parts: [['9.2×10', 'n'], ['-10', 'sup']], al: 'left', color: DRED},
   {p: 1.55, v: 4.95, parts: [['NCM-00', 'n']], al: 'right', color: '#111', size: 15}]);

// ---------- (f) Coulombic efficiency ----------
const fColors = ['#000000', '#3b7a50', '#ff0000', '#0000ff', '#ff00ff'];
const fLabelColors = ['#111', '#2a8a2a', '#d42020', '#2525d0', '#d020d0'];
mkChart({l: 685, t: 461, r: 919, b: 649}, {l: 70, t: 20, r: 12, b: 52}, {type: 'bar',
  data: {labels: fSamples, datasets: [{data: fCE, base: 70, borderColor: '#333', borderWidth: 1, borderSkipped: false,
    barPercentage: 0.95, categoryPercentage: 1.0,
    backgroundColor: ctx => {
      const ch = ctx.chart, a = ch.chartArea, i = ctx.dataIndex;
      if (!a) return fColors[i];
      const y = ch.scales.y, top = y.getPixelForValue(fCE[i]), bot = y.getPixelForValue(70);
      const g = ch.ctx.createLinearGradient(0, top, 0, Math.max(bot, top + 1));
      g.addColorStop(0, fColors[i]); g.addColorStop(1, '#f6f6f6'); return g;
    }}]},
  options: {scales: {x: {type: 'category', offset: true, ticks: {display: false}, grid: {display: false, drawTicks: false}, border: {display: false}},
    y: axis(70, 90, [70, 75, 80, 85, 90], {cb: v => String(v)})}},
  plugins: [minor(null, [72.5, 77.5, 82.5, 87.5]), hook('afterDraw', ch => {
    const c = ch.ctx, a = ch.chartArea, meta = ch.getDatasetMeta(0);
    meta.data.forEach((bar, i) => {
      c.save(); c.font = '16px ' + FONT; c.fillStyle = fLabelColors[i]; c.textAlign = 'center'; c.textBaseline = 'bottom';
      c.fillText(fCE[i].toFixed(2), bar.x, bar.y - 1); c.restore();
      c.save(); c.translate(bar.x - 14, a.bottom + 9); c.rotate(Math.PI / 4); c.font = '15px ' + FONT; c.fillStyle = '#111';
      c.textAlign = 'left'; c.textBaseline = 'middle'; c.fillText(fSamples[i], 0, 0); c.restore();
    });
  })]});

// ---------- text: panel letters and axis titles ----------
function label(html, x, y, cls) { const d = document.createElement('div'); d.className = 'lab ' + (cls || ''); d.style.left = x + 'px'; d.style.top = y + 'px'; d.innerHTML = html; fig.appendChild(d); }
label('(a)', 17, 13, 'pl'); label('(b)', 318, 13, 'pl'); label('(c)', 632, 13, 'pl');
label('(d)', 12, 451, 'pl'); label('(e)', 320, 450, 'pl'); label('(f)', 632, 451, 'pl');
const DT = 'D<sub>Li+</sub>(cm<sup>2</sup> s<sup>-1</sup>)', CAP = 'Capacity (mAh g<sup>-1</sup>)';
[13, 321, 641].forEach(x => { label('Voltage (V)', x, 102, 'rot'); label('Polarization (V)', x, 262, 'rot'); label(DT, x + 1, 368, 'rot'); });
label(CAP, 178, 442); label(CAP, 485, 442); label(CAP, 803, 441);
label('Polarization (V)', 13, 552, 'rot');
label('D<sub>Li+</sub>(×10<sup>-9</sup> cm<sup>2</sup> s<sup>-1</sup>)', 343, 560, 'rot');
label('Coulombic efficiency (%)', 648, 556, 'rot');
</script></body></html>
